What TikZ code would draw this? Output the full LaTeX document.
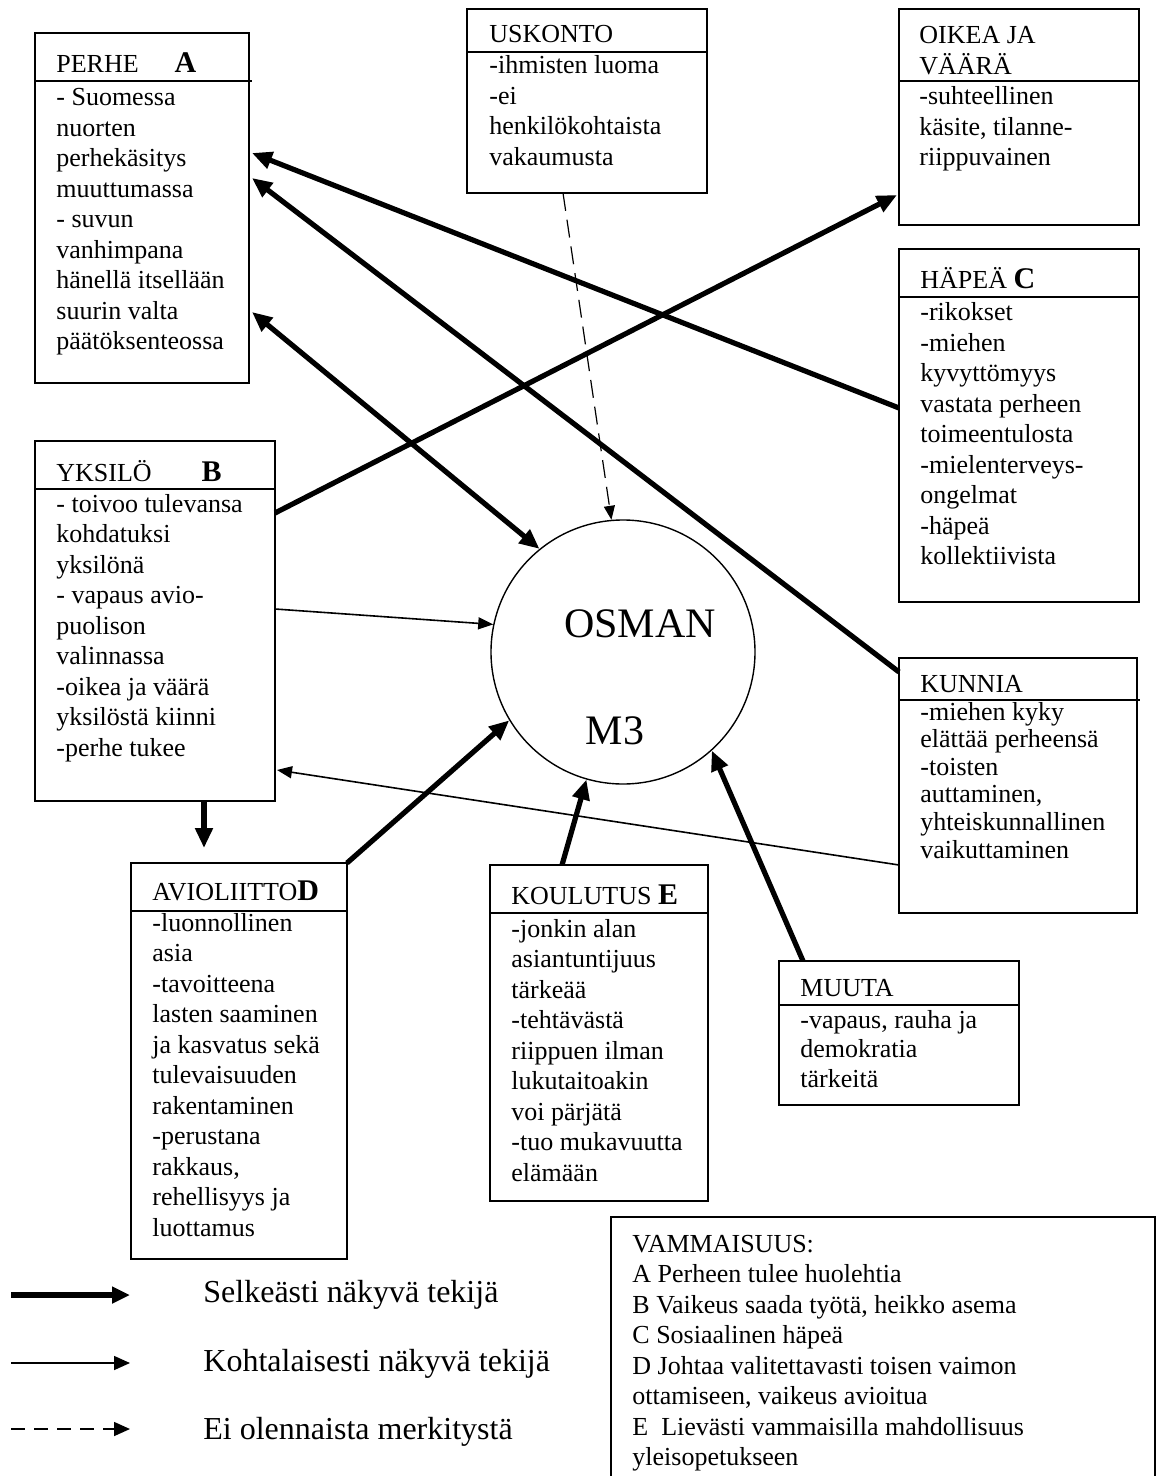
\documentclass[tikz,border=0pt]{standalone}
\usepackage{fontspec}
\setmainfont{Liberation Serif}
\usetikzlibrary{arrows.meta,calc}
\newcommand\blocktext[1]{\begin{tabular}[t]{@{}l@{}}#1\end{tabular}}
\newcommand\keyletter[1]{\textbf{\fontsize{15}{15}\selectfont #1}}
\begin{document}
\begin{tikzpicture}[x=0.5pt,y=-0.5pt,
  box/.style={draw,line width=1pt,rectangle,anchor=north west,inner sep=0pt,outer sep=0pt},
  divider/.style={line width=1pt},
  txt/.style={anchor=base west,inner sep=0pt,font=\fontsize{13}{15.25}\selectfont},
  big/.style={anchor=base,inner sep=0pt,font=\fontsize{21}{24}\selectfont},
  legtxt/.style={anchor=base west,inner sep=0pt,font=\fontsize{16}{19}\selectfont},
  strong/.style={line width=2.6pt,-{Triangle[length=10pt,width=8.5pt]}},
  strongboth/.style={line width=2.6pt,{Triangle[length=10pt,width=8.5pt]}-{Triangle[length=10pt,width=8.5pt]}},
  medium/.style={line width=0.8pt,-{Triangle[length=7.5pt,width=6pt]}},
  weak/.style={line width=0.6pt,dash pattern=on 9pt off 4.5pt,-{Triangle[length=7pt,width=5.5pt]}}
]
\clip (0,0) rectangle (1166,1476);

% ---------- boxes ----------
\node[box,minimum width=107pt,minimum height=175pt] (perhe) at (35,33) {};
\node[box,minimum width=120pt,minimum height=92pt] (uskonto) at (467,9) {};
\node[box,minimum width=120pt,minimum height=108pt] (oikea) at (899,9) {};
\node[box,minimum width=120pt,minimum height=176.5pt] (hapea) at (899,249) {};
\node[box,minimum width=120pt,minimum height=180pt] (yksilo) at (35,441) {};
\node[box,minimum width=119pt,minimum height=127.5pt] (kunnia) at (899,658) {};
\node[box,minimum width=108pt,minimum height=198pt] (avio) at (131,863) {};
\node[box,minimum width=109pt,minimum height=168pt] (koulutus) at (490,865) {};
\node[box,minimum width=120pt,minimum height=72pt] (muuta) at (779,961) {};
\node[box,minimum width=272pt,minimum height=140pt] (vamma) at (611,1217) {};

% dividers
\draw[divider] ($(perhe.north west)+(0,48)$) -- ($(perhe.north east)+(3,48)$);
\draw[divider] ($(uskonto.north west)+(0,43)$) -- ($(uskonto.north east)+(0,43)$);
\draw[divider] ($(oikea.north west)+(0,72)$) -- ($(oikea.north east)+(0,72)$);
\draw[divider] ($(hapea.north west)+(0,48)$) -- ($(hapea.north east)+(0,48)$);
\draw[divider] ($(yksilo.north west)+(0,48)$) -- ($(yksilo.north east)+(0,48)$);
\draw[divider] ($(kunnia.north west)+(0,42)$) -- ($(kunnia.north east)+(3,42)$);
\draw[divider] ($(avio.north west)+(0,48)$) -- ($(avio.north east)+(0,48)$);
\draw[divider] ($(koulutus.north west)+(0,48)$) -- ($(koulutus.north east)+(0,48)$);
\draw[divider] ($(muuta.north west)+(0,44)$) -- ($(muuta.north east)+(0,44)$);

% ---------- texts ----------
\node[txt] (perheH) at (56,73) {PERHE\hspace{18pt}\keyletter{A}};
\node[txt] (perheB) at (56,106) {\blocktext{- Suomessa\\nuorten\\perhekäsitys\\muuttumassa\\- suvun\\vanhimpana\\hänellä itsellään\\suurin valta\\päätöksenteossa}};

\node[txt] (uskontoH) at (489,43) {USKONTO};
\node[txt] (uskontoB) at (489,74) {\blocktext{-ihmisten luoma\\-ei\\henkilökohtaista\\vakaumusta}};

\node[txt] (oikeaH) at (919,44) {\blocktext{OIKEA JA\\VÄÄRÄ}};
\node[txt] (oikeaB) at (919,105) {\blocktext{-suhteellinen\\käsite, tilanne-\\riippuvainen}};

\node[txt] (hapeaH) at (920,289) {HÄPEÄ \keyletter{C}};
\node[txt] (hapeaB) at (920,321) {\blocktext{-rikokset\\-miehen\\kyvyttömyys\\vastata perheen\\toimeentulosta\\-mielenterveys-\\ongelmat\\-häpeä\\kollektiivista}};

\node[txt] (yksiloH) at (56,481) {YKSILÖ\hspace{25pt}\keyletter{B}};
\node[txt] (yksiloB) at (56,512) {\blocktext{- toivoo tulevansa\\kohdatuksi\\yksilönä\\- vapaus avio-\\puolison\\valinnassa\\-oikea ja väärä\\yksilöstä kiinni\\-perhe tukee}};

\node[txt] (kunniaH) at (920,692) {KUNNIA};
\node[txt,font=\fontsize{13}{13.8}\selectfont] (kunniaB) at (920,720) {\blocktext{-miehen kyky\\elättää perheensä\\-toisten\\auttaminen,\\yhteiskunnallinen\\vaikuttaminen}};

\node[txt] (avioH) at (152,900) {AVIOLIITTO\keyletter{D}};
\node[txt] (avioB) at (152,931) {\blocktext{-luonnollinen\\asia\\-tavoitteena\\lasten saaminen\\ja kasvatus sekä\\tulevaisuuden\\rakentaminen\\-perustana\\rakkaus,\\rehellisyys ja\\luottamus}};

\node[txt] (koulutusH) at (511,904) {KOULUTUS \keyletter{E}};
\node[txt] (koulutusB) at (511,937) {\blocktext{-jonkin alan\\asiantuntijuus\\tärkeää\\-tehtävästä\\riippuen ilman\\lukutaitoakin\\voi pärjätä\\-tuo mukavuutta\\elämään}};

\node[txt] (muutaH) at (800,996) {MUUTA};
\node[txt,font=\fontsize{13}{14.75}\selectfont] (muutaB) at (800,1028) {\blocktext{-vapaus, rauha ja\\demokratia\\tärkeitä}};

\node[txt] (vammaB) at (632,1252) {\blocktext{VAMMAISUUS:\\A Perheen tulee huolehtia\\B Vaikeus saada työtä, heikko asema\\C Sosiaalinen häpeä\\D Johtaa valitettavasti toisen vaimon\\ottamiseen, vaikeus avioitua\\E\ \ Lievästi vammaisilla mahdollisuus\\yleisopetukseen}};

% ---------- centre ----------
\node[draw,circle,line width=0.7pt,minimum size=132pt,inner sep=0pt] (osman) at (623,652) {};
\node[big] (osmanT) at (640,637) {OSMAN};
\node[big] (m3T) at (615,744) {M3};

% ---------- connectors ----------
\draw[strong] ($(hapea.north west)+(0,159)$) -- ($(perhe.north east)+(3,120)$);
\draw[strong] ($(kunnia.north west)+(0,14)$) -- ($(perhe.north east)+(3,145)$);
\draw[strongboth] ($(perhe.north east)+(3,279)$) -- (osman.129.8);
\draw[strong] ($(yksilo.north east)+(0,72)$) -- ($(oikea.north west)+(-2,186)$);
\draw[weak] ($(uskonto.south west)+(96,0)$) -- (osman.95.3);
\draw[medium] ($(yksilo.north east)+(0,168)$) -- (osman.168.9);
\draw[medium] ($(kunnia.north west)+(0,207)$) -- ($(yksilo.north east)+(2,329)$);
\draw[strong] ($(yksilo.south west)+(169,0)$) -- ($(avio.north west)+(73,-15)$);
\draw[strong] (avio.north east) -- (osman.211.6);
\draw[strong] ($(koulutus.north west)+(72,0)$) -- (osman.254.2);
\draw[strong] ($(muuta.north west)+(24,0)$) -- (osman.312.1);

% ---------- legend ----------
\coordinate (l1a) at (11,1295); \coordinate (l1b) at (130,1295);
\coordinate (l2a) at (11,1363); \coordinate (l2b) at (130,1363);
\coordinate (l3a) at (11,1429); \coordinate (l3b) at (130,1429);
\draw[line width=2.6pt,-{Triangle[length=9pt,width=8pt]}] (l1a) -- (l1b);
\draw[line width=0.8pt,-{Triangle[length=8pt,width=7pt]}] (l2a) -- (l2b);
\draw[line width=0.8pt,dash pattern=on 7pt off 4.5pt,-{Triangle[length=8pt,width=7pt]}] (l3a) -- (l3b);
\node[legtxt] (leg1) at (203,1302) {Selkeästi näkyvä tekijä};
\node[legtxt] (leg2) at (203,1371) {Kohtalaisesti näkyvä tekijä};
\node[legtxt] (leg3) at (203,1439) {Ei olennaista merkitystä};
\end{tikzpicture}
\end{document}
